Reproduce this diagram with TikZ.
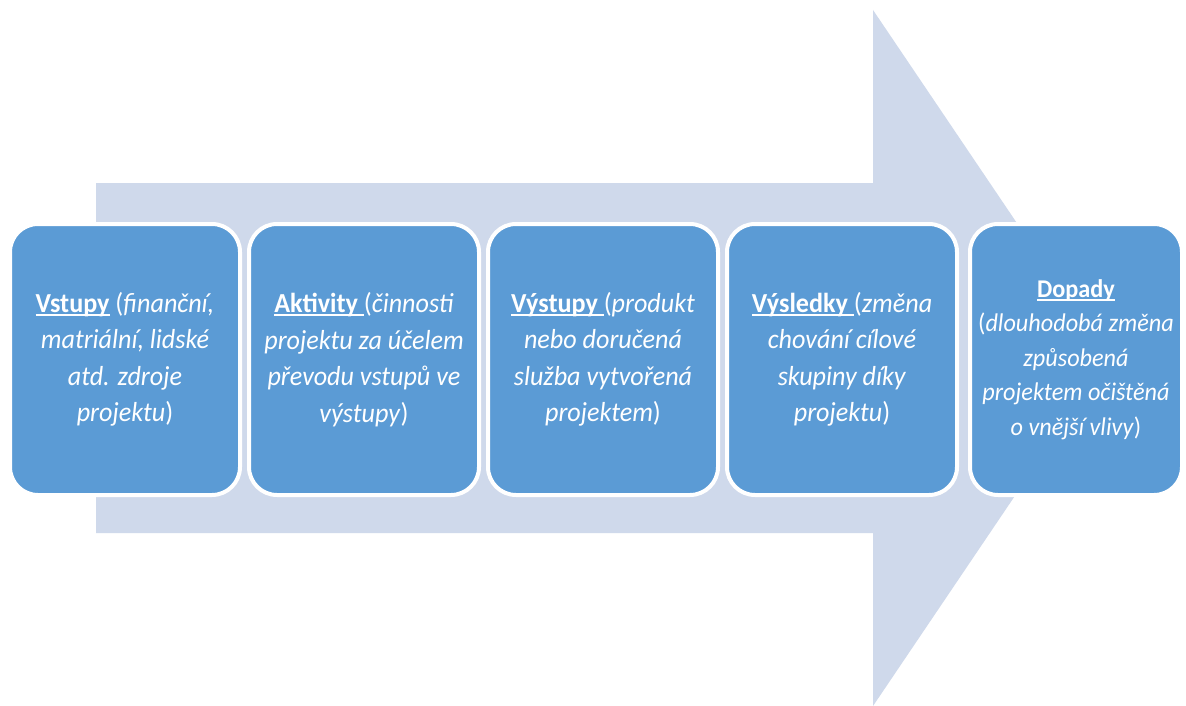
\documentclass[tikz,border=0pt]{standalone}
\usepackage{fontspec}
\setmainfont{Carlito}[FakeStretch=0.95]
\definecolor{boxblue}{RGB}{91,155,213}
\definecolor{arrowbg}{RGB}{207,217,235}
\newcommand\ulword[1]{\setbox0\hbox{#1}\rlap{\rule[-3.5pt]{\wd0}{1.8pt}}\box0\relax}
\begin{document}
\begin{tikzpicture}[x=1pt,y=-1pt,
  stage/.style={draw=white, line width=4pt, fill=boxblue, rounded corners=28pt,
    text=white, align=center, minimum height=271pt, inner sep=0pt,
    font=\fontsize{27.5}{36.5}\selectfont},
  bigarrow/.style={fill=arrowbg, draw=none}]
\useasboundingbox (0,0) rectangle (1186,706);
\fill[white] (0,0) rectangle (1186,706);
% background arrow
\coordinate (a1) at (96,183);
\coordinate (a2) at (873,183);
\coordinate (a3) at (873,10);
\coordinate (tip) at (1108,358);
\coordinate (a5) at (873,706);
\coordinate (a6) at (873,533);
\coordinate (a7) at (96,533);
\path[bigarrow] (a1) -- (a2) -- (a3) -- (tip) -- (a5) -- (a6) -- (a7) -- cycle;
% stages
\node[stage, minimum width=230pt] (vstupy) at (125,359.5)
  {\ulword{\textbf{Vstupy}} (\textit{finanční,}\\ \textit{matriální, lidské}\\ \textit{atd. zdroje}\\ \textit{projektu})};
\node[stage, minimum width=230pt] (aktivity) at (364,359.5)
  {\ulword{\textbf{Aktivity} }(\textit{činnosti}\\ \textit{projektu za účelem}\\ \textit{převodu vstupů ve}\\ \textit{výstupy})};
\node[stage, minimum width=230pt] (vystupy) at (603,359.5)
  {\ulword{\textbf{Výstupy} }(\textit{produkt}\\ \textit{nebo doručená}\\ \textit{služba vytvořená}\\ \textit{projektem})};
\node[stage, minimum width=230pt] (vysledky) at (842,359.5)
  {\ulword{\textbf{Výsledky} }(\textit{změna}\\ \textit{chování cílové}\\ \textit{skupiny díky}\\ \textit{projektu})};
\node[stage, minimum width=212pt, font=\fontsize{25.5}{34.5}\selectfont] (dopady) at (1076,359.5)
  {\ulword{\textbf{Dopady}}\\ (\textit{dlouhodobá změna}\\ \textit{způsobená}\\ \textit{projektem očištěná}\\ \textit{o vnější vlivy})};
\end{tikzpicture}
\end{document}
